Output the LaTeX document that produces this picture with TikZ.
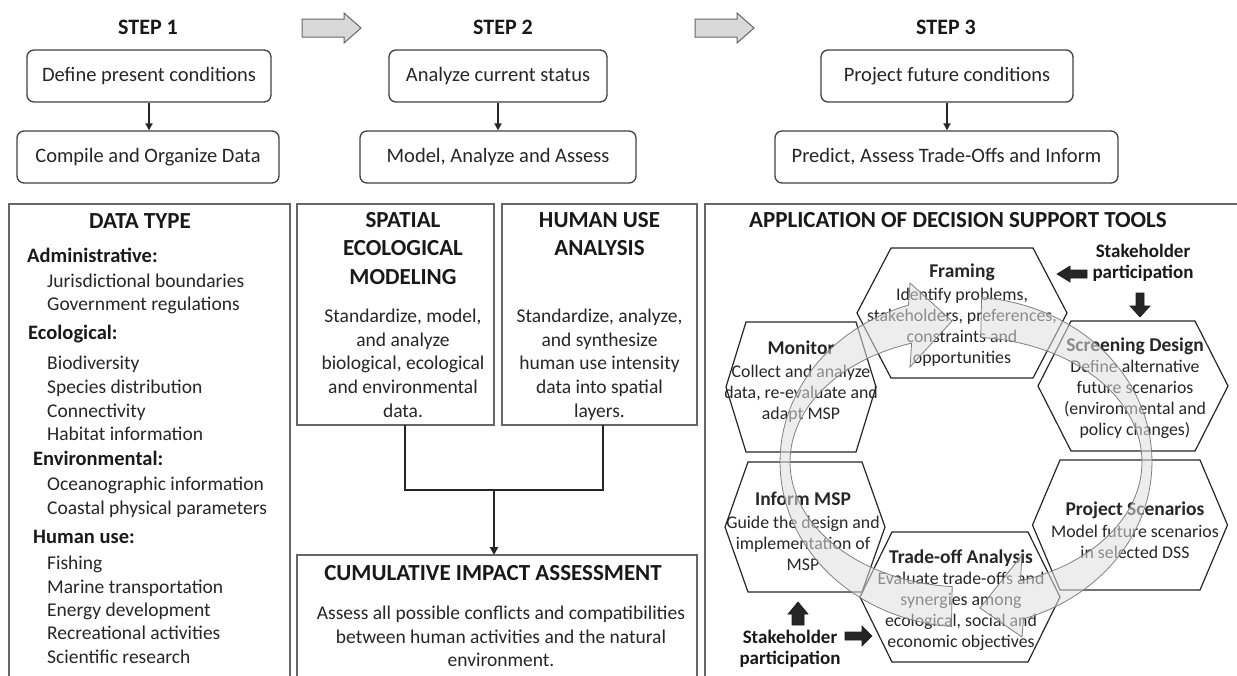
\documentclass[tikz,border=0pt]{standalone}
\usepackage{fontspec}
\setmainfont{Carlito}
\usetikzlibrary{arrows.meta,calc}

\newcommand{\hexagonat}[3]{%
  \draw[hexline] ([shift={(-#2,0)}]#1) -- ([shift={(-#3,-65)}]#1) -- ([shift={(#3,-65)}]#1)
    -- ([shift={(#2,0)}]#1) -- ([shift={(#3,65)}]#1) -- ([shift={(-#3,65)}]#1) -- cycle;}
\newcommand{\hxtitle}[1]{{\fontsize{19.5}{21}\selectfont\bfseries #1}}

\tikzset{
  stepbox/.style={draw=black!75, line width=1.3pt, rounded corners=7pt, minimum height=52pt,
    inner sep=0pt, font=\fontsize{20.5}{24}\selectfont, text=black!85},
  steplabel/.style={font=\fontsize{22}{26}\selectfont\bfseries, text=black!90, inner sep=0pt},
  flow/.style={line width=1.8pt, draw=black!85, -{Triangle[length=7pt,width=7pt]}},
  greyarrow/.style={draw=black!60, line width=1pt, fill=black!15},
  panel/.style={draw=black!60, line width=1.8pt, inner sep=0pt, outer sep=0pt},
  ptitle/.style={font=\fontsize{23}{28}\selectfont\bfseries, text=black!90, inner sep=0pt},
  body/.style={font=\fontsize{19.5}{23.5}\selectfont, text=black!85, inner sep=0pt},
  head/.style={font=\fontsize{20.5}{24}\selectfont\bfseries, text=black!90, inner sep=0pt},
  conn/.style={line width=2.2pt, draw=black!85},
  hexline/.style={draw=black!85, line width=1.2pt, fill=white},
  hextext/.style={align=center, font=\fontsize{17.8}{21}\selectfont, text=black!85, inner sep=0pt},
  stake/.style={align=center, font=\fontsize{19}{21}\selectfont\bfseries, text=black!90, inner sep=0pt},
  blockarrow/.style={fill=black!85, draw=black!90, line width=0.6pt},
  cyc/.style={draw=black!50, line width=0.8pt, fill=black!12, fill opacity=0.55},
}

\begin{document}
\begin{tikzpicture}[x=1pt,y=-1pt]
\useasboundingbox (0,0) rectangle (1237,675);
\clip (0,0) rectangle (1237,675);

% ---------- three steps ----------
\node[steplabel] (s1) at (148,27) {STEP 1};
\node[steplabel] (s2) at (503,27) {STEP 2};
\node[steplabel] (s3) at (946,27) {STEP 3};

\node[stepbox, minimum width=244pt] (b1a) at (149,76) {Define present conditions};
\node[stepbox, minimum width=262pt] (b1b) at (148,157) {Compile and Organize Data};
\node[stepbox, minimum width=218pt] (b2a) at (498,76) {Analyze current status};
\node[stepbox, minimum width=276pt] (b2b) at (498,157) {Model, Analyze and Assess};
\node[stepbox, minimum width=252pt] (b3a) at (947,76) {Project future conditions};
\node[stepbox, minimum width=343pt] (b3b) at (946.5,157) {Predict, Assess Trade-Offs and Inform};

\draw[flow] (b1a.south) -- (b1a.south |- b1b.north);
\draw[flow] (b2a.south) -- (b2a.south |- b2b.north);
\draw[flow] (b3a.south) -- (b3a.south |- b3b.north);

% grey arrows between the steps
\coordinate (g1) at (302,28);
\coordinate (g2) at (695,28);
\foreach \g in {g1,g2}
  \draw[greyarrow] (\g) ++(0,-9) -- ++(42,0) -- ++(0,-6) -- ++(17,15) -- ++(-17,15)
    -- ++(0,-6) -- ++(-42,0) -- cycle;

% ---------- panels ----------
\node[panel, minimum width=281pt, minimum height=486pt] (dtbox) at (149.5,447) {};
\node[panel, minimum width=197pt, minimum height=221pt] (spatial) at (395.5,314.5) {};
\node[panel, minimum width=195pt, minimum height=221pt] (human) at (599.5,314.5) {};
\node[panel, minimum width=400pt, minimum height=135pt] (cia) at (497,622.5) {};
\node[panel, minimum width=540pt, minimum height=486pt] (dss) at (975,447) {};

% data types
\node[ptitle, anchor=base] (dt0) at (140,228) {DATA TYPE};
\node[head, anchor=base west] (dth1) at (27,262) {Administrative:};
\node[head, anchor=base west] (dth2) at (28,339) {Ecological:};
\node[head, anchor=base west] (dth3) at (33,465) {Environmental:};
\node[head, anchor=base west] (dth4) at (33,543) {Human use:};
\foreach \yy/\tt [count=\i] in {
  287/{Jurisdictional boundaries}, 310/{Government regulations},
  369/{Biodiversity}, 393/{Species distribution}, 417/{Connectivity}, 440/{Habitat information},
  490/{Oceanographic information}, 514/{Coastal physical parameters},
  569/{Fishing}, 593/{Marine transportation}, 616/{Energy development},
  639/{Recreational activities}, 663/{Scientific research}}
  \node[body, anchor=base west] (dt\i) at (47,\yy) {\tt};

% spatial ecological modeling
\foreach \yy/\tt [count=\i] in {227/{SPATIAL}, 255/{ECOLOGICAL}, 284/{MODELING}}
  \node[ptitle, anchor=base] (spt\i) at (403,\yy) {\tt};
\foreach \yy/\tt [count=\i] in {322/{Standardize, model,}, 346/{and analyze},
  369/{biological, ecological}, 393/{and environmental}, 417/{data.}}
  \node[body, anchor=base] (spb\i) at (403,\yy) {\tt};

% human use analysis
\foreach \yy/\tt [count=\i] in {227/{HUMAN USE}, 255/{ANALYSIS}}
  \node[ptitle, anchor=base] (hut\i) at (599.5,\yy) {\tt};
\foreach \yy/\tt [count=\i] in {322/{Standardize, analyze,}, 346/{and synthesize},
  369/{human use intensity}, 393/{data into spatial}, 417/{layers.}}
  \node[body, anchor=base] (hub\i) at (599.5,\yy) {\tt};

% merge into the cumulative assessment
\coordinate (j1) at (405,490);
\coordinate (j2) at (603,490);
\coordinate (jm) at (494,490);
\draw[conn] (spatial.south -| j1) -- (j1) -- (j2) -- (human.south -| j2);
\draw[conn, -{Triangle[length=8pt,width=8pt]}] (jm) -- (cia.north -| jm);

\node[ptitle, anchor=base] (ciat) at (493,580) {CUMULATIVE IMPACT ASSESSMENT};
\foreach \yy/\tt [count=\i] in {619/{Assess all possible conflicts and compatibilities},
  643/{between human activities and the natural}, 666/{environment.}}
  \node[body, anchor=base] (ciab\i) at (501,\yy) {\tt};

% ---------- decision support cycle ----------
\node[ptitle, anchor=base] (dsst) at (958,227) {APPLICATION OF DECISION SUPPORT TOOLS};

\coordinate (hFr) at (962,313);
\coordinate (hMo) at (801,387);
\coordinate (hSc) at (1133,386);
\coordinate (hIn) at (805,527);
\coordinate (hTr) at (960,597);
\coordinate (hPr) at (1130,525);
\hexagonat{hFr}{105}{71}
\hexagonat{hMo}{75}{55}
\hexagonat{hSc}{95}{62}
\hexagonat{hIn}{80}{57}
\hexagonat{hTr}{100}{68}
\hexagonat{hPr}{97.5}{70}

\node[hextext] (framing) at (962,315) {\hxtitle{Framing}\\[2pt] Identify problems,\\ stakeholders, preferences,\\ constraints and\\ opportunities};
\node[hextext] (monitor) at (801,381.5) {\hxtitle{Monitor}\\[2pt] Collect and analyze\\ data, re-evaluate and\\ adapt MSP};
\node[hextext] (screening) at (1135,388.5) {\hxtitle{Screening Design}\\ Define alternative\\ future scenarios\\ (environmental and\\ policy changes)};
\node[hextext] (project) at (1135,530) {\hxtitle{Project Scenarios}\\[1pt] Model future scenarios\\ in selected DSS};
\node[hextext] (inform) at (803,531.5) {\hxtitle{Inform MSP}\\[2pt] Guide the design and\\ implementation of\\ MSP};
\node[hextext] (tradeoff) at (961,600) {\hxtitle{Trade-off Analysis}\\ Evaluate trade-offs and\\ synergies among\\ ecological, social and\\ economic objectives};

% circular arrows running through the cycle
\draw[cyc] plot[domain=94.5:252, samples=60, variable=\t] ({966+186*cos(\t)},{462+165*sin(\t)})
  -- (910,283) -- (952,321) -- (910,367)
  -- plot[domain=252:94.5, samples=60, variable=\t] ({966+176*cos(\t)},{462+125*sin(\t)}) -- cycle;
\draw[cyc] plot[domain=274.8:432, samples=60, variable=\t] ({966+186*cos(\t)},{462+165*sin(\t)})
  -- (1022,637) -- (980,608) -- (1022,555)
  -- plot[domain=432:274.8, samples=60, variable=\t] ({966+176*cos(\t)},{462+125*sin(\t)}) -- cycle;

% stakeholder participation
\node[stake] (stktop) at (1143,263) {Stakeholder\\ participation};
\node[stake] (stkbot) at (790,649) {Stakeholder\\ participation};

\coordinate (aL) at (1057,274);
\draw[blockarrow] (aL) -- ++(13,-8) -- ++(0,4) -- ++(17,0) -- ++(0,8) -- ++(-17,0) -- ++(0,4) -- cycle;
\coordinate (aD) at (1140,317);
\draw[blockarrow] (aD) -- ++(10,-11) -- ++(-6,0) -- ++(0,-13) -- ++(-8,0) -- ++(0,13) -- ++(-6,0) -- cycle;
\coordinate (aU) at (798,602);
\draw[blockarrow] (aU) -- ++(10,12) -- ++(-4,0) -- ++(0,11) -- ++(-12,0) -- ++(0,-11) -- ++(-4,0) -- cycle;
\coordinate (aR) at (872,636);
\draw[blockarrow] (aR) -- ++(-10,-10) -- ++(0,6) -- ++(-17,0) -- ++(0,8) -- ++(17,0) -- ++(0,6) -- cycle;

\end{tikzpicture}
\end{document}
